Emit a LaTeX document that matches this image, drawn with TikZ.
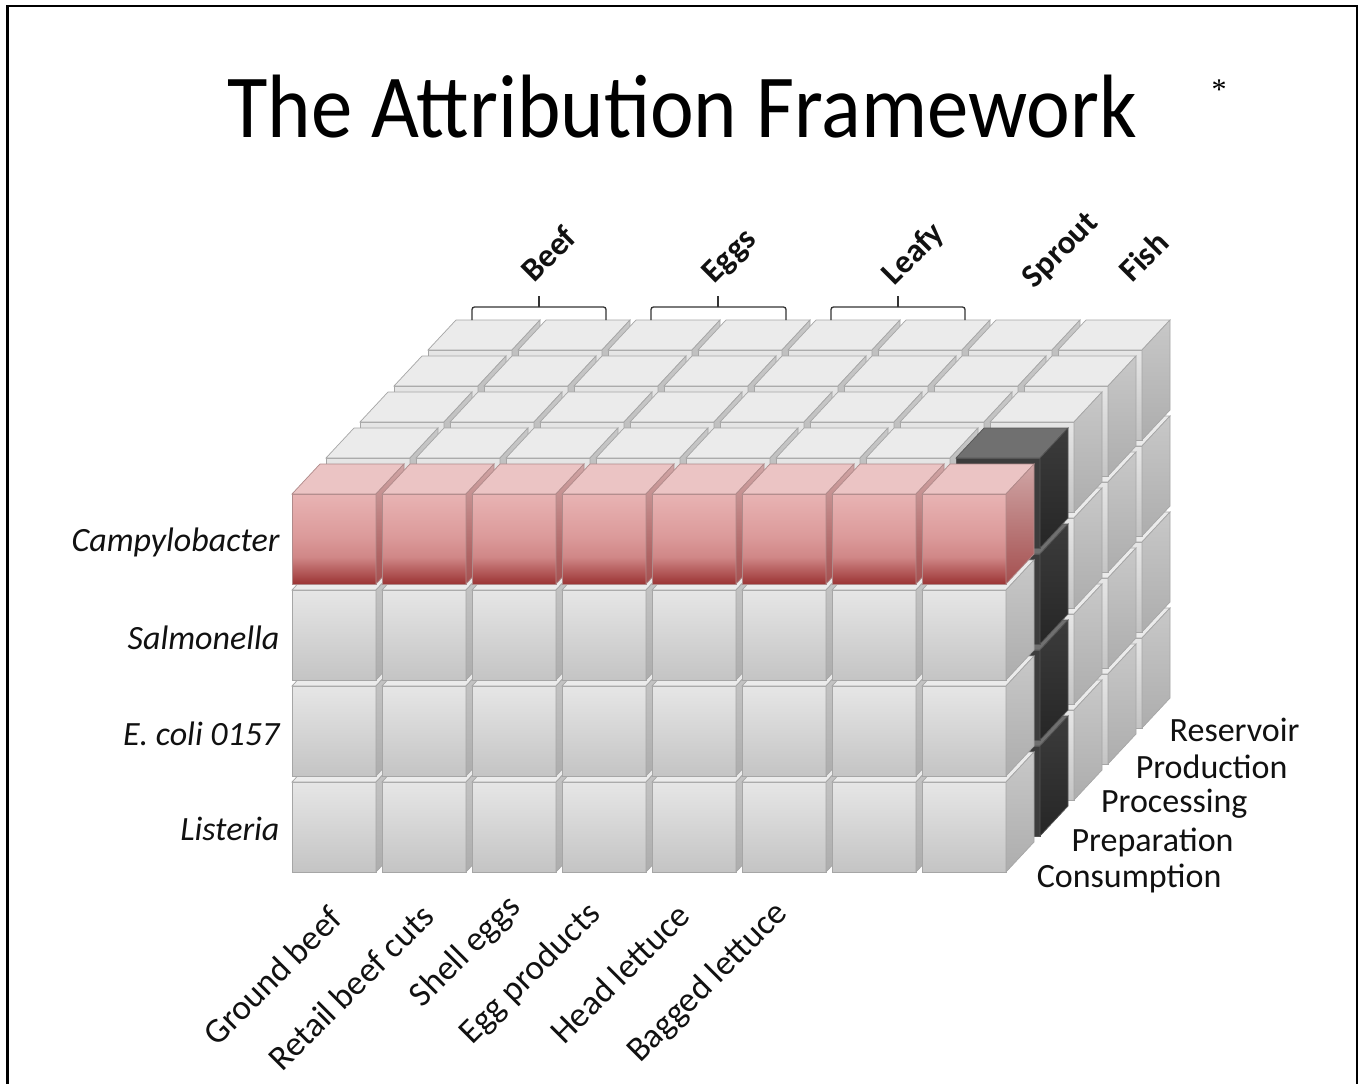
\documentclass[tikz,border=0pt]{standalone}
\usepackage{fontspec}
\setmainfont{Carlito}
\newfontfamily\astfont{Liberation Serif}
\begin{document}
\definecolor{gft}{HTML}{E6E6E6}
\definecolor{gfb}{HTML}{C4C4C4}
\definecolor{gtop}{HTML}{EBEBEB}
\definecolor{grt}{HTML}{C8C8C8}
\definecolor{grb}{HTML}{ADADAD}
\definecolor{gedge}{HTML}{A6A6A6}
\definecolor{rt}{HTML}{E8B3B3}
\definecolor{rm}{HTML}{DC9B9B}
\definecolor{rmm}{HTML}{D08787}
\definecolor{rb}{HTML}{9B3434}
\definecolor{rtop}{HTML}{EBC4C4}
\definecolor{rrt}{HTML}{D0A6A6}
\definecolor{rrb}{HTML}{A44F4F}
\definecolor{redge}{HTML}{B08A8A}
\definecolor{dtop}{HTML}{707070}
\definecolor{drt}{HTML}{3C3C3C}
\definecolor{drb}{HTML}{262626}
\definecolor{dedge}{HTML}{555555}
\definecolor{txt}{HTML}{111111}
\pgfdeclareverticalshading{redfrontsh}{100bp}{color(0bp)=(rb); color(25bp)=(rb); color(40bp)=(rmm); color(52bp)=(rm); color(75bp)=(rt); color(100bp)=(rt)}
\newcommand\cubefaces[5]{%
  \path[#3] (#1,#2) rectangle ++(84,90);
  \path[#4] (#1,#2) -- ++(28,-30) -- ++(84,0) -- ++(-28,30) -- cycle;
  \path[#5] (#1+84,#2) -- ++(28,-30) -- ++(0,90) -- ++(-28,30) -- cycle;
}
\begin{tikzpicture}[x=1pt,y=-1pt,
  gfront/.style={draw=gedge, line width=0.7pt, top color=gft, bottom color=gfb},
  gtopf/.style={draw=gedge, line width=0.7pt, fill=gtop},
  gright/.style={draw=gedge, line width=0.7pt, top color=grt, bottom color=grb},
  rfront/.style={draw=redge, line width=0.7pt, shading=redfrontsh},
  rtopf/.style={draw=redge, line width=0.7pt, fill=rtop},
  rright/.style={draw=redge, line width=0.7pt, top color=rrt, bottom color=rrb},
  dfront/.style={draw=dedge, line width=0.7pt, fill=drt},
  dtopf/.style={draw=dedge, line width=0.7pt, fill=dtop},
  dright/.style={draw=dedge, line width=0.7pt, top color=drt, bottom color=drb},
  rowlab/.style={anchor=east, text=txt, font=\fontsize{34}{38}\selectfont\itshape},
  deplab/.style={anchor=east, text=txt, font=\fontsize{34}{38}\selectfont},
  collab/.style={anchor=east, rotate=45, text=txt, font=\fontsize{35}{38}\selectfont},
  toplab/.style={anchor=base west, rotate=45, text=txt, font=\fontsize{33}{36}\selectfont\bfseries},
  bracel/.style={draw=black!80, line width=1.3pt}]
\useasboundingbox (0,0) rectangle (1358,1084);
\fill[white] (0,0) rectangle (1358,1084);
\draw[line width=2.5pt] (7.5,1084) -- (7.5,6) -- (1356.8,6) -- (1356.8,1084);
% title
\node[anchor=base, text=black, font=\fontsize{90}{96}\selectfont] (title) at (682,137) {\scalebox{0.92}[1]{The Attribution Framework}};
\node[anchor=base, text=black, font=\fontsize{30}{32}\selectfont\astfont] (ast) at (1219,99) {*};
% cubes
\foreach \k in {4,3,2,1,0}{
 \foreach \r in {3,2,1,0}{
  \foreach \c in {0,...,7}{
    \pgfmathsetmacro\X{292+90*\c+34*\k}
    \pgfmathsetmacro\Y{494+96*\r-36*\k}
    \pgfmathtruncatemacro\typ{(\k==0 && \r==0) ? 1 : ((\k==1 && \c==7) ? 2 : 0)}
    \ifcase\typ
      \cubefaces{\X}{\Y}{gfront}{gtopf}{gright}
    \or
      \cubefaces{\X}{\Y}{rfront}{rtopf}{rright}
    \or
      \cubefaces{\X}{\Y}{dfront}{dtopf}{dright}
    \fi
  }}}
% braces
\draw[bracel, rounded corners=2.5pt] (472,320) -- (472,307) -- (606,307) -- (606,320);
\draw[bracel] (539,307) -- (539,296);
\draw[bracel, rounded corners=2.5pt] (651,320) -- (651,307) -- (786,307) -- (786,320);
\draw[bracel] (718,307) -- (718,296);
\draw[bracel, rounded corners=2.5pt] (831,320) -- (831,307) -- (965,307) -- (965,320);
\draw[bracel] (898,307) -- (898,296);
% top labels
\node[toplab] (beef) at (532,286) {Beef};
\node[toplab] (eggs) at (712,287) {Eggs};
\node[toplab] (leafy) at (892,289) {Leafy};
\node[toplab] (sprout) at (1032,292) {Sprout};
\node[toplab] (fish) at (1130,286) {Fish};
% row labels
\node[rowlab] (campy) at (283,542) {Campylobacter};
\node[rowlab] (salm) at (283,638) {Salmonella};
\node[rowlab] (ecoli) at (283,734) {E. coli 0157};
\node[rowlab] (list) at (283,829) {Listeria};
% depth labels
\node[deplab] (res) at (1303,730) {Reservoir};
\node[deplab] (prod) at (1291,767) {Production};
\node[deplab] (proc) at (1251,804) {Processing};
\node[deplab] (prep) at (1237,842) {Preparation};
\node[deplab] (cons) at (1225,878) {Consumption};
% column labels
\node[collab] (gb) at (338,910) {Ground beef};
\node[collab] (rbc) at (430,908) {Retail beef cuts};
\node[collab] (se) at (518,900) {Shell eggs};
\node[collab] (ep) at (598,907) {Egg products};
\node[collab] (hl) at (686,907) {Head lettuce};
\node[collab] (bl) at (785,906) {Bagged lettuce};
\end{tikzpicture}
\end{document}
